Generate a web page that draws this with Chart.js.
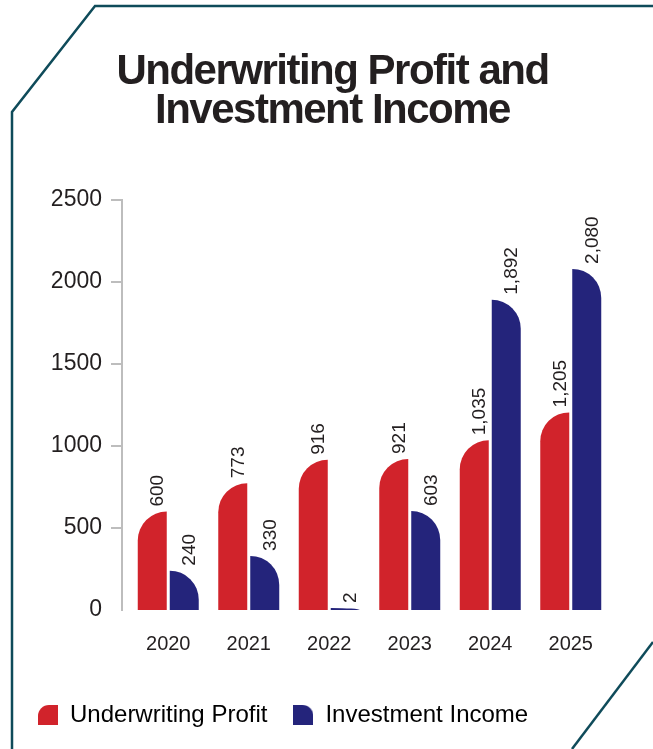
<!DOCTYPE html>
<html>
<head>
<meta charset="utf-8">
<script src="https://cdn.jsdelivr.net/npm/chart.js@4.4.1/dist/chart.umd.min.js"></script>
<style>
  html, body { margin: 0; padding: 0; background: #fff; }
  #wrap { position: relative; width: 653px; height: 749px; overflow: hidden; }
  #grafico, #moldura { position: absolute; left: 0; top: 0; }
  h1 {
    position: absolute; left: 12px; right: 0; top: 50px; margin: 0;
    text-align: center; color: #231f20;
    font: bold 42px/39px "Liberation Sans", Arial, sans-serif;
    letter-spacing: -1.5px;
  }
</style>
</head>
<body>
<div id="wrap">
  <canvas id="grafico" width="653" height="749"></canvas>
  <svg id="moldura" width="653" height="749">
    <polyline points="653,6 95,6 12,112 12,749" fill="none" stroke="#0f4b5a" stroke-width="2.5"/>
    <line x1="572" y1="749" x2="653" y2="642" stroke="#0f4b5a" stroke-width="2.5"/>
  </svg>
  <h1>Underwriting Profit and<br>Investment Income</h1>
</div>
<script>
// dados
const anos = ['2020', '2021', '2022', '2023', '2024', '2025'];
const lucroSubscricao = [600, 773, 916, 921, 1035, 1205];
const receitaInvestimento = [240, 330, 2, 603, 1892, 2080];
const nomesSeries = ['Underwriting Profit', 'Investment Income'];
const ticksY = [0, 500, 1000, 1500, 2000, 2500];

const VERMELHO = '#d1232b';
const AZUL = '#24247b';
const TEXTO = '#231f20';
const FONTE = '"Liberation Sans", Arial, sans-serif';

// barra com um canto superior em quarto de círculo (esquerdo ou direito)
class BarraCupula extends Chart.BarElement {
    draw(ctx) {
        const { x, y, base, width } = this.getProps(['x', 'y', 'base', 'width']);
        const esq = x - width / 2;
        const dir = x + width / 2;
        const h = Math.max(base - y, 0);
        const rx = width;
        const ry = Math.min(width, h);
        ctx.save();
        ctx.fillStyle = this.options.backgroundColor;
        ctx.beginPath();
        if (this.options.corner === 'right') {
            ctx.moveTo(esq, base);
            ctx.lineTo(esq, y);
            ctx.ellipse(esq, y + ry, rx, ry, 0, -Math.PI / 2, 0);
            ctx.lineTo(dir, base);
        } else {
            ctx.moveTo(dir, base);
            ctx.lineTo(dir, y);
            ctx.ellipse(dir, y + ry, rx, ry, 0, -Math.PI / 2, -Math.PI, true);
            ctx.lineTo(esq, base);
        }
        ctx.closePath();
        ctx.fill();
        ctx.restore();
    }
}
BarraCupula.id = 'barraCupula';
BarraCupula.defaults = Object.assign({}, Chart.BarElement.defaults, { corner: 'left' });
BarraCupula.defaultRoutes = Chart.BarElement.defaultRoutes;

class ControleCupula extends Chart.BarController {}
ControleCupula.id = 'cupula';
ControleCupula.defaults = Object.assign({}, Chart.BarController.defaults, { dataElementType: 'barraCupula' });
ControleCupula.overrides = Chart.BarController.overrides;

Chart.register(BarraCupula, ControleCupula);

// ícone da legenda com o mesmo formato das barras
function criarIcone(cor, canto) {
    const c = document.createElement('canvas');
    c.width = 20; c.height = 20;
    const g = c.getContext('2d');
    g.fillStyle = cor;
    g.beginPath();
    if (canto === 'right') {
        g.moveTo(0, 20); g.lineTo(0, 0); g.lineTo(9, 0);
        g.arcTo(20, 0, 20, 11, 11); g.lineTo(20, 20);
    } else {
        g.moveTo(20, 20); g.lineTo(20, 0); g.lineTo(11, 0);
        g.arcTo(0, 0, 0, 11, 11); g.lineTo(0, 20);
    }
    g.closePath();
    g.fill();
    return c;
}
const icones = [criarIcone(VERMELHO, 'left'), criarIcone(AZUL, 'right')];

// eixo vertical desenhado um pouco à esquerda da área das barras
const eixoValores = {
    id: 'eixoValores',
    beforeDatasetsDraw(chart) {
        const { ctx, chartArea, scales: { y } } = chart;
        const ax = chartArea.left - 6;
        ctx.save();
        ctx.strokeStyle = '#bdbdbd';
        ctx.lineWidth = 2;
        ctx.beginPath();
        ctx.moveTo(ax, y.getPixelForValue(ticksY[ticksY.length - 1]) - 1);
        ctx.lineTo(ax, y.getPixelForValue(0) + 1);
        ticksY.slice(1).forEach(v => {
            const py = y.getPixelForValue(v);
            ctx.moveTo(ax - 11, py);
            ctx.lineTo(ax + 1, py);
        });
        ctx.stroke();
        ctx.restore();
    }
};

// rótulos de valor girados acima de cada barra
const rotulosValor = {
    id: 'rotulosValor',
    afterDatasetsDraw(chart) {
        const ctx = chart.ctx;
        ctx.save();
        ctx.font = '19px ' + FONTE;
        ctx.fillStyle = TEXTO;
        ctx.textAlign = 'left';
        ctx.textBaseline = 'middle';
        chart.data.datasets.forEach((ds, di) => {
            chart.getDatasetMeta(di).data.forEach((barra, i) => {
                ctx.save();
                ctx.translate(barra.x + 6, barra.y - 5);
                ctx.rotate(-Math.PI / 2);
                ctx.fillText(ds.data[i].toLocaleString('en-US'), 0, 0);
                ctx.restore();
            });
        });
        ctx.restore();
    }
};

new Chart(document.getElementById('grafico'), {
    type: 'cupula',
    data: {
        labels: anos,
        datasets: [
            { label: nomesSeries[0], data: lucroSubscricao, backgroundColor: VERMELHO, corner: 'left' },
            { label: nomesSeries[1], data: receitaInvestimento, backgroundColor: AZUL, corner: 'right' }
        ]
    },
    options: {
        responsive: false,
        animation: false,
        events: [],
        categoryPercentage: 0.795,
        barPercentage: 0.906,
        minBarLength: 2,
        layout: { padding: { top: 200, left: 12, right: 42, bottom: 12 } },
        scales: {
            x: {
                grid: { display: false, drawTicks: false },
                border: { display: false },
                ticks: { padding: 22, color: TEXTO, font: { family: FONTE, size: 20 } },
                afterFit(s) { s.height = 67; }
            },
            y: {
                min: ticksY[0],
                max: ticksY[ticksY.length - 1],
                grid: { display: false, drawTicks: false },
                border: { display: false },
                ticks: {
                    stepSize: ticksY[1] - ticksY[0],
                    padding: 26,
                    color: TEXTO,
                    font: { family: FONTE, size: 23 },
                    callback: v => String(v)
                },
                afterFit(s) { s.width = 116; }
            }
        },
        plugins: {
            legend: {
                position: 'bottom',
                align: 'start',
                labels: {
                    usePointStyle: true,
                    boxWidth: 20,
                    boxHeight: 20,
                    padding: 26,
                    color: TEXTO,
                    font: { family: FONTE, size: 24 },
                    generateLabels: chart => chart.data.datasets.map((ds, i) => ({
                        text: ds.label,
                        fillStyle: ds.backgroundColor,
                        strokeStyle: ds.backgroundColor,
                        lineWidth: 0,
                        pointStyle: icones[i],
                        hidden: false,
                        datasetIndex: i
                    }))
                }
            },
            tooltip: { enabled: false }
        }
    },
    plugins: [eixoValores, rotulosValor]
});
</script>
</body>
</html>
